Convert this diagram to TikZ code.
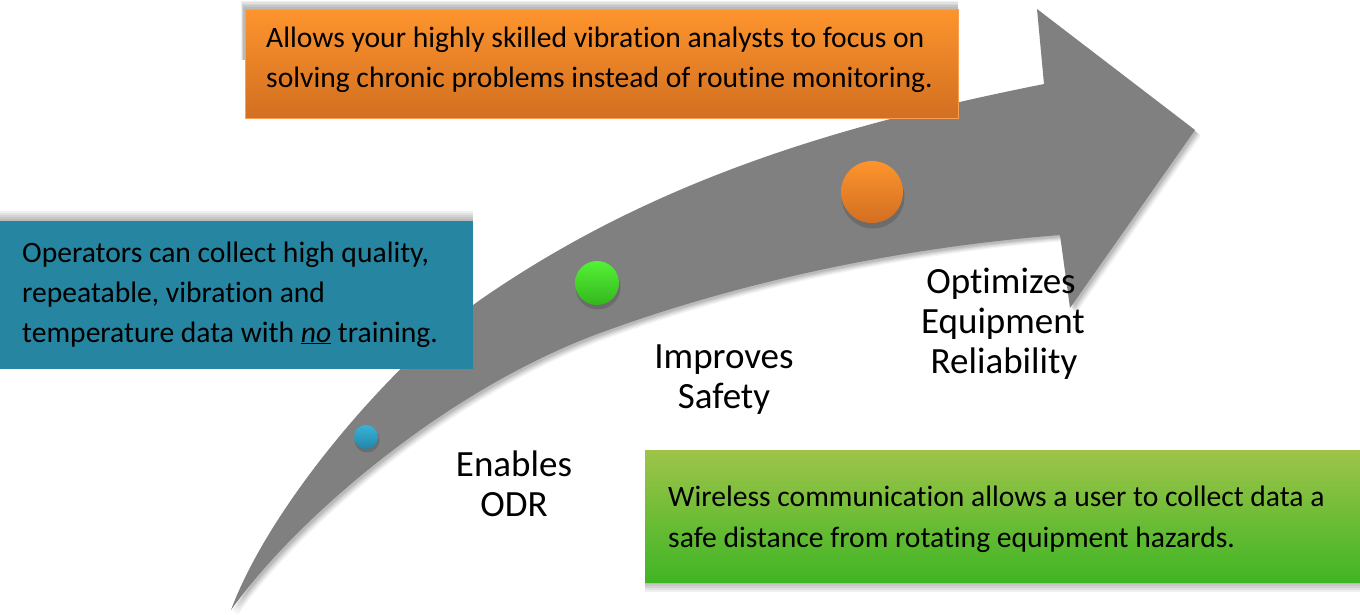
\documentclass[tikz,border=0pt]{standalone}
\usepackage{fontspec}
\setmainfont[Ligatures=NoCommon]{Carlito}
\definecolor{arrowgray}{RGB}{128,128,128}
\definecolor{tealbox}{RGB}{38,133,160}
\definecolor{orangetop}{RGB}{253,148,45}
\definecolor{orangebot}{RGB}{210,111,33}
\definecolor{orangeedge}{RGB}{250,160,80}
\definecolor{greentop}{RGB}{158,196,74}
\definecolor{greenbot}{RGB}{64,181,36}
\definecolor{bluetop}{RGB}{56,180,215}
\definecolor{bluebot}{RGB}{33,133,168}
\definecolor{gdottop}{RGB}{84,242,52}
\definecolor{gdotbot}{RGB}{52,182,30}
\begin{document}
\begin{tikzpicture}[x=1pt,y=-1pt,
  box/.style={rectangle, inner sep=0pt, anchor=north west},
  dot/.style={circle, inner sep=0pt},
  txt/.style={anchor=base west, inner sep=0pt, font=\fontsize{29.6}{35}\selectfont},
  lbl/.style={anchor=base, inner sep=0pt, font=\fontsize{37}{40}\selectfont}]
\useasboundingbox[fill=white] (0,0) rectangle (1360,614);
% curved arrow with soft shadow
\foreach \s/\o/\c in {6/0.04/black,5/0.05/black,4/0.06/black,3/0.07/black,2/0.08/black,0/1/arrowgray}{
  \fill[\c, opacity=\o, shift={(\s,\s)}]
    (231,610) .. controls (270,505) and (390,365) .. (480,300)
    .. controls (660,175) and (854,122) .. (1044,84)
    -- (1037,9) -- (1195,130) -- (1070,308) -- (1060,235)
    .. controls (910,247) and (750,278) .. (600,333)
    .. controls (440,392) and (291,525) .. (231,610)
    -- cycle;
}
% dots with shadows
\fill[black,opacity=0.15] (367,440) circle (12.5pt);
\fill[black,opacity=0.15] (598,287) circle (22.5pt);
\fill[black,opacity=0.15] (873,197) circle (31.5pt);
\node[dot, top color=bluetop, bottom color=bluebot, minimum size=24pt] (dotA) at (366,437) {};
\node[dot, top color=gdottop, bottom color=gdotbot, minimum size=44pt] (dotB) at (597,283) {};
\node[dot, top color=orangetop, bottom color=orangebot, minimum size=62pt] (dotC) at (872,192) {};
% box shadows
\foreach \i in {1,...,5}{
  \fill[black,opacity=0.06] (0,{221-2*\i}) rectangle (473,300);
  \fill[black,opacity=0.06] ({244-0.6*\i},{8-1.5*\i}) rectangle (958,60);
  \fill[black,opacity=0.06] (645,520) rectangle (1360,{582+2*\i});
}
% boxes
\node[box, fill=tealbox, minimum width=473pt, minimum height=148pt] (bluebox) at (0,221) {};
\node[box, top color=orangetop, bottom color=orangebot, draw=orangeedge, line width=1.2pt, minimum width=713pt, minimum height=109pt] (orangebox) at (244.6,8.6) {};
\node[box, top color=greentop, bottom color=greenbot, minimum width=715pt, minimum height=132pt] (greenbox) at (645,450) {};
% box texts
\node[txt] (b1) at (22,262) {Operators can collect high quality,};
\node[txt] (b2) at (22,302) {repeatable, vibration and};
\node[txt] (b3) at (22,342) {temperature data with \underline{\textit{no}} training.};
\node[txt] (o1) at (266,47) {Allows your highly skilled vibration analysts to focus on};
\node[txt] (o2) at (266,87) {solving chronic problems instead of routine monitoring.};
\node[txt] (g1) at (668,506) {Wireless communication allows a user to collect data a};
\node[txt] (g2) at (668,547) {safe distance from rotating equipment hazards.};
% labels
\node[lbl] (l1a) at (514,476) {Enables};
\node[lbl] (l1b) at (514,516) {ODR};
\node[lbl] (l2a) at (724,368) {Improves};
\node[lbl] (l2b) at (724,408) {Safety};
\node[lbl] (l3a) at (1001,293) {Optimizes};
\node[lbl] (l3b) at (1003,333) {Equipment};
\node[lbl] (l3c) at (1004,373) {Reliability};
\end{tikzpicture}
\end{document}
